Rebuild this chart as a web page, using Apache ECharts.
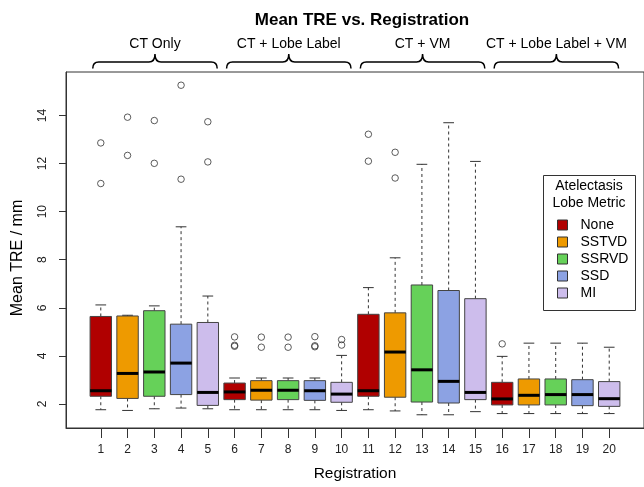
<!DOCTYPE html>
<html>
<head>
<meta charset="utf-8">
<script src="https://cdn.jsdelivr.net/npm/echarts@6/dist/echarts.min.js"></script>
<style>
  html, body { margin: 0; padding: 0; background: #fff; }
  #chart { width: 644px; height: 487px; }
</style>
</head>
<body>
<div id="chart"></div>
<script>
var registrations = [1, 2, 3, 4, 5, 6, 7, 8, 9, 10, 11, 12, 13, 14, 15, 16, 17, 18, 19, 20];
var groups = ['CT Only', 'CT + Lobe Label', 'CT + VM', 'CT + Lobe Label + VM'];
var metrics = ['None', 'SSTVD', 'SSRVD', 'SSD', 'MI'];
var metricColors = ['#b00000', '#ee9a00', '#66d159', '#8ca2e3', '#cdbdec'];

// box statistics per registration (mm)
var lowerWhisker = [1.76, 1.73, 1.80, 1.83, 1.80, 1.76, 1.76, 1.76, 1.76, 1.73, 1.76, 1.71, 1.55, 1.55, 1.68, 1.60, 1.60, 1.60, 1.60, 1.60];
var lowerQuartile = [2.32, 2.23, 2.32, 2.39, 1.94, 2.18, 2.16, 2.18, 2.15, 2.07, 2.32, 2.28, 2.08, 2.04, 2.18, 1.96, 1.96, 1.96, 1.93, 1.90];
var medians = [2.55, 3.27, 3.33, 3.70, 2.48, 2.50, 2.57, 2.57, 2.55, 2.41, 2.55, 4.16, 3.42, 2.94, 2.48, 2.21, 2.36, 2.39, 2.39, 2.22];
var upperQuartile = [5.64, 5.66, 5.88, 5.32, 5.39, 2.87, 2.97, 2.97, 2.97, 2.90, 5.73, 5.79, 6.95, 6.72, 6.38, 2.90, 3.04, 3.04, 3.01, 2.93];
var upperWhisker = [6.12, 5.69, 6.08, 9.37, 6.49, 3.08, 3.08, 3.08, 3.08, 4.02, 6.84, 8.08, 11.97, 13.70, 12.09, 3.98, 4.53, 4.53, 4.53, 4.36];
var outliers = [
  [1, 12.86], [1, 11.17], [2, 13.93], [2, 12.34], [3, 13.79], [3, 12.01],
  [4, 15.26], [4, 11.35], [5, 13.74], [5, 12.07],
  [6, 4.79], [6, 4.44], [6, 4.40], [7, 4.78], [7, 4.36], [8, 4.78], [8, 4.36],
  [9, 4.80], [9, 4.42], [9, 4.38], [10, 4.68], [10, 4.45],
  [11, 13.22], [11, 12.10], [12, 12.47], [12, 11.40], [16, 4.50]
];
var yTicks = [2, 4, 6, 8, 10, 12, 14];

var FONT = 'Liberation Sans, Arial, sans-serif';
var yMax = 15.81;

function renderBox(params, api) {
  var x = api.value(0);
  var lo = api.coord([x, api.value(1)]);
  var q1 = api.coord([x, api.value(2)]);
  var md = api.coord([x, api.value(3)]);
  var q3 = api.coord([x, api.value(4)]);
  var hi = api.coord([x, api.value(5)]);
  var w = api.size([0.8, 0])[0];
  var cx = lo[0];
  var sw = w / 4;
  var dark = '#333';
  return {
    type: 'group',
    children: [
      { type: 'line', shape: { x1: cx, y1: q3[1], x2: cx, y2: hi[1] },
        style: { stroke: dark, lineWidth: 1, lineDash: [3, 3] } },
      { type: 'line', shape: { x1: cx, y1: q1[1], x2: cx, y2: lo[1] },
        style: { stroke: dark, lineWidth: 1, lineDash: [3, 3] } },
      { type: 'line', shape: { x1: cx - sw, y1: hi[1], x2: cx + sw, y2: hi[1] },
        style: { stroke: dark, lineWidth: 1 } },
      { type: 'line', shape: { x1: cx - sw, y1: lo[1], x2: cx + sw, y2: lo[1] },
        style: { stroke: dark, lineWidth: 1 } },
      { type: 'rect', shape: { x: cx - w / 2, y: q3[1], width: w, height: q1[1] - q3[1] },
        style: { fill: api.visual('color'), stroke: '#444', lineWidth: 1 } },
      { type: 'line', shape: { x1: cx - w / 2, y1: md[1], x2: cx + w / 2, y2: md[1] },
        style: { stroke: '#000', lineWidth: 3 } }
    ]
  };
}

function renderBrace(params, api) {
  var g = api.value(0);
  var top = api.coord([0, yMax])[1];
  var xl = api.coord([g * 5 + 0.7, yMax])[0];
  var xr = api.coord([g * 5 + 5.35, yMax])[0];
  var xc = (xl + xr) / 2;
  var yEnd = top - 3.5, yBar = top - 10, yTip = top - 18;
  var r = 6;
  var d = 'M' + xl + ',' + yEnd +
    ' Q' + xl + ',' + yBar + ' ' + (xl + r) + ',' + yBar +
    ' L' + (xc - r) + ',' + yBar +
    ' Q' + xc + ',' + yBar + ' ' + xc + ',' + yTip +
    ' Q' + xc + ',' + yBar + ' ' + (xc + r) + ',' + yBar +
    ' L' + (xr - r) + ',' + yBar +
    ' Q' + xr + ',' + yBar + ' ' + xr + ',' + yEnd;
  return {
    type: 'group',
    children: [
      { type: 'path', shape: { pathData: d },
        style: { fill: 'none', stroke: '#000', lineWidth: 1.5 } },
      { type: 'text', style: { text: groups[g], x: xc, y: top - 28,
        align: 'center', verticalAlign: 'middle', fill: '#000',
        font: '14px ' + FONT } }
    ]
  };
}

var series = metrics.map(function (name, m) {
  var data = [];
  groups.forEach(function (gname, g) {
    var i = g * 5 + m;
    data.push([registrations[i], lowerWhisker[i], lowerQuartile[i], medians[i], upperQuartile[i], upperWhisker[i]]);
  });
  return {
    name: name,
    type: 'custom',
    renderItem: renderBox,
    itemStyle: { color: metricColors[m] },
    encode: { x: 0, y: [1, 2, 3, 4, 5] },
    data: data,
    z: 3
  };
});

series.push({
  name: 'outliers',
  type: 'scatter',
  symbol: 'circle',
  symbolSize: 6.5,
  itemStyle: { color: 'rgba(0,0,0,0)', borderColor: '#333', borderWidth: 1 },
  data: outliers,
  z: 4
});

series.push({
  name: 'groups',
  type: 'custom',
  renderItem: renderBrace,
  clip: false,
  silent: true,
  data: groups.map(function (g, i) { return [i, yMax]; })
});

var chart = echarts.init(document.getElementById('chart'), null, { renderer: 'canvas' });

chart.setOption({
  animation: false,
  backgroundColor: '#fff',
  title: {
    text: 'Mean TRE vs. Registration',
    left: 357,
    top: 7,
    textAlign: 'center',
    textStyle: { fontFamily: FONT, fontSize: 17, fontWeight: 'bold', color: '#000' }
  },
  grid: {
    left: 66, top: 72, right: -3, bottom: 59,
    show: true, borderColor: '#333', borderWidth: 1, backgroundColor: 'transparent'
  },
  legend: {
    data: metrics,
    orient: 'vertical',
    left: 557,
    top: 218,
    padding: 0,
    icon: 'rect',
    itemWidth: 10,
    itemHeight: 10,
    itemGap: 3,
    itemStyle: { borderColor: '#333', borderWidth: 1 },
    selectedMode: false,
    textStyle: { fontFamily: FONT, fontSize: 14, color: '#000', lineHeight: 14, padding: [0, 0, 0, 8] }
  },
  graphic: [
    { type: 'rect', left: 543, top: 175, shape: { width: 92, height: 135 },
      style: { fill: '#fff', stroke: '#333', lineWidth: 1 }, z: 2 },
    { type: 'text', x: 589, y: 186, z: 3,
      style: { text: 'Atelectasis', align: 'center', verticalAlign: 'middle', fill: '#000', font: '14px ' + FONT } },
    { type: 'text', x: 589, y: 203, z: 3,
      style: { text: 'Lobe Metric', align: 'center', verticalAlign: 'middle', fill: '#000', font: '14px ' + FONT } }
  ],
  xAxis: {
    type: 'value',
    min: -0.3,
    max: 21.3,
    name: 'Registration',
    nameLocation: 'middle',
    nameGap: 38,
    nameTextStyle: { fontFamily: FONT, fontSize: 15.5, color: '#000' },
    splitLine: { show: false },
    axisLine: { show: true, onZero: false, lineStyle: { color: '#333' } },
    axisTick: { show: true, length: 10, lineStyle: { color: '#333' }, customValues: registrations },
    axisLabel: { customValues: registrations, margin: 16, fontFamily: FONT, fontSize: 12, color: '#222' }
  },
  yAxis: {
    type: 'value',
    min: 1.0,
    max: yMax,
    name: 'Mean TRE / mm',
    nameLocation: 'middle',
    nameGap: 40,
    nameTextStyle: { fontFamily: FONT, fontSize: 16, color: '#000', padding: [0, 16, 0, 0] },
    splitLine: { show: false },
    axisLine: { show: true, onZero: false, lineStyle: { color: '#333' } },
    axisTick: { show: true, length: 7, lineStyle: { color: '#333' }, customValues: yTicks },
    axisLabel: { customValues: yTicks, rotate: 90, margin: 17, fontFamily: FONT, fontSize: 12, color: '#222' }
  },
  series: series
});
</script>
</body>
</html>
